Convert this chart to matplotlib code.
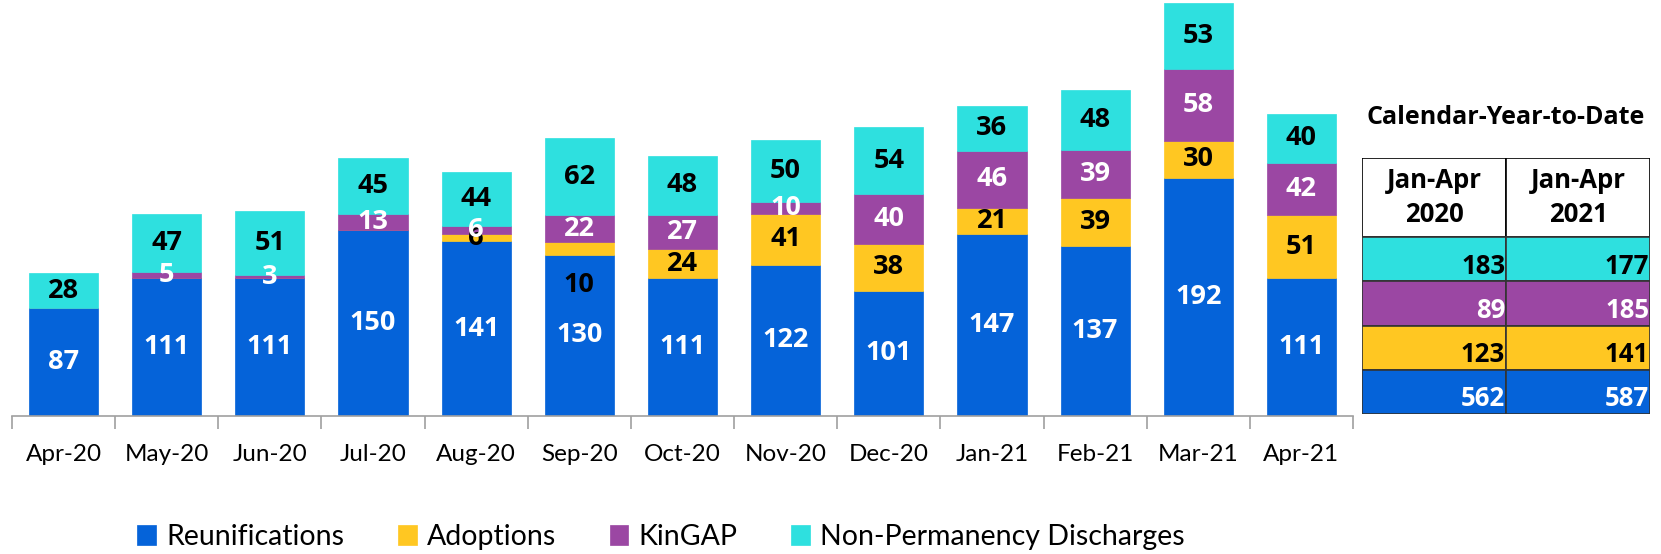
import matplotlib
matplotlib.use("Agg")
import matplotlib.pyplot as plt
from matplotlib.patches import Rectangle
import numpy as np

plt.rcParams['font.family'] = ['Lato', 'DejaVu Sans']
BOLD = ['Open Sans', 'DejaVu Sans']

months = ["Apr-20", "May-20", "Jun-20", "Jul-20", "Aug-20", "Sep-20", "Oct-20",
          "Nov-20", "Dec-20", "Jan-21", "Feb-21", "Mar-21", "Apr-21"]
reunifications = [87, 111, 111, 150, 141, 130, 111, 122, 101, 147, 137, 192, 111]
adoptions = [0, 0, 0, 0, 6, 10, 24, 41, 38, 21, 39, 30, 51]
kingap = [0, 5, 3, 13, 6, 22, 27, 10, 40, 46, 39, 58, 42]
non_perm = [28, 47, 51, 45, 44, 62, 48, 50, 54, 36, 48, 53, 40]

series_names = ["Reunifications", "Adoptions", "KinGAP", "Non-Permanency Discharges"]
colors = ["#0563D9", "#FFC722", "#9B47A3", "#2EE0DF"]
label_colors = ["white", "black", "white", "black"]

table_title = "Calendar-Year-to-Date"
table_cols = ["Jan-Apr\n2020", "Jan-Apr\n2021"]
# rows top to bottom: Non-Perm, KinGAP, Adoptions, Reunifications
ytd_2020 = [183, 89, 123, 562]
ytd_2021 = [177, 185, 141, 587]

W, H = 1661, 554
fig = plt.figure(figsize=(W / 100, H / 100), dpi=100)

ax = fig.add_axes([12 / W, (H - 416) / H, (1353 - 12) / W, 414 / H])
x = np.arange(len(months))
data = [reunifications, adoptions, kingap, non_perm]
bottom = np.zeros(len(months))
handles = []
# label offsets in points (only for displaced labels in the original)
offsets = {(1, 5): -26}
for si, (vals, c) in enumerate(zip(data, colors)):
    vals = np.array(vals, dtype=float)
    b = ax.bar(x, vals, 0.67, bottom=bottom, color=c, edgecolor=c, linewidth=0.5,
               label=series_names[si])
    handles.append(b)
    for i, v in enumerate(vals):
        if v <= 0:
            continue
        yc = bottom[i] + v / 2
        dy = offsets.get((si, i), 0)
        ax.annotate(f"{int(v)}", (x[i], yc), xytext=(0, dy), textcoords="offset points",
                    ha="center", va="center", fontsize=19.5, fontweight="bold",
                    family=BOLD, color=label_colors[si], zorder=5)
    bottom += vals

ax.set_xlim(-0.5, len(months) - 0.5)
ax.set_ylim(0, 334)
for s in ["top", "right", "left"]:
    ax.spines[s].set_visible(False)
ax.spines["bottom"].set_color("#A0A0A0")
ax.spines["bottom"].set_linewidth(1.2)
ax.set_yticks([])
ax.set_xticks(x)
ax.set_xticklabels(months, fontsize=17.5)
ax.tick_params(axis="x", which="major", length=0, pad=20)
ax.set_xticks(np.arange(-0.5, len(months), 1.0), minor=True)
ax.tick_params(axis="x", which="minor", length=9, color="#A0A0A0", width=1.2)

leg = fig.legend(handles=handles, loc="center", bbox_to_anchor=(661 / W, 1 - 537 / H),
                 ncol=4, frameon=False, fontsize=20.5, handlelength=0.65, handleheight=0.65,
                 handletextpad=0.35, columnspacing=1.9)

# Table
tx0, tx1, ty0, ty1 = 1362, 1650, 158, 414
tax = fig.add_axes([tx0 / W, (H - ty1) / H, (tx1 - tx0) / W, (ty1 - ty0) / H])
tax.set_xlim(0, 2)
header_h = 79
row_h = (ty1 - ty0 - header_h) / 4
total = ty1 - ty0
tax.set_ylim(total, 0)
tax.axis("off")
row_colors = [colors[3], colors[2], colors[1], colors[0]]
row_text = [label_colors[3], label_colors[2], label_colors[1], label_colors[0]]
for j, col in enumerate(table_cols):
    tax.add_patch(Rectangle((j, 0), 1, header_h, facecolor="white", edgecolor="black", lw=1.2))
    tax.text(j + 0.5, header_h / 2, col, ha="center", va="center", fontsize=18.5,
             fontweight="bold", family=BOLD, linespacing=1.3)
for r in range(4):
    y0 = header_h + r * row_h
    for j, vals in enumerate([ytd_2020, ytd_2021]):
        tax.add_patch(Rectangle((j, y0), 1, row_h, facecolor=row_colors[r],
                                edgecolor="#333333", lw=1.2))
        tax.text(j + 0.995, y0 + row_h * 0.66, str(vals[r]), ha="right", va="center",
                 fontsize=18.5, fontweight="bold", family=BOLD, color=row_text[r])

fig.text(1506 / W, 1 - 117 / H, table_title, ha="center", va="center", fontsize=18,
         fontweight="bold", family=BOLD)

fig.savefig("out.png", dpi=100)
